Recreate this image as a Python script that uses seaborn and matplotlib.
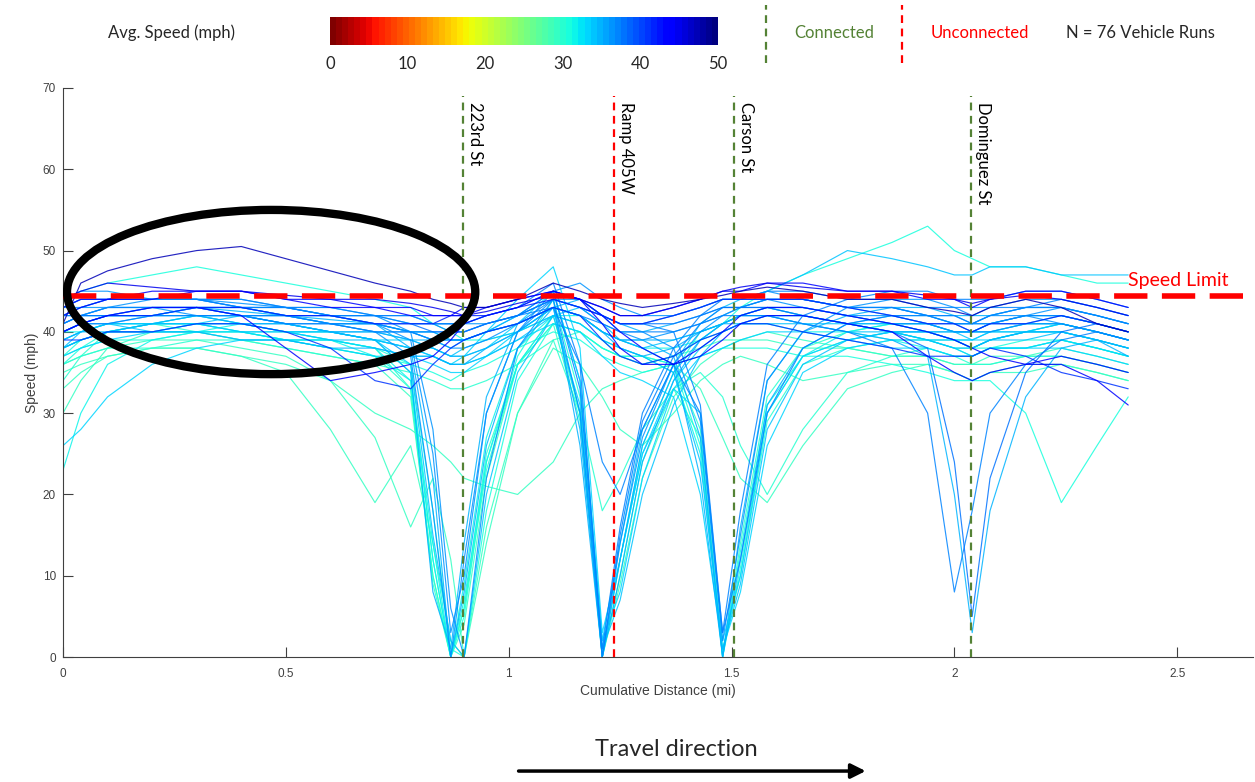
import numpy as np
import pandas as pd
import matplotlib
matplotlib.use("Agg")
import matplotlib.pyplot as plt
import seaborn as sns
from matplotlib.patches import Ellipse, FancyArrowPatch
from matplotlib.lines import Line2D

sns.set_style("ticks")
plt.rcParams["font.family"] = ["Liberation Sans", "DejaVu Sans"]

# distance stations (mi) shared by every run
DIST = [0.00, 0.04, 0.10, 0.20, 0.30, 0.40, 0.50, 0.60, 0.70, 0.78,
        0.83, 0.87, 0.90, 0.95, 1.02, 1.10, 1.16, 1.21, 1.25, 1.30,
        1.37, 1.43, 1.48, 1.52, 1.58, 1.66, 1.76, 1.86, 1.94, 2.00,
        2.04, 2.08, 2.16, 2.24, 2.32, 2.39]

# speed (mph) of each vehicle run at the stations above
RUN_SPEEDS = [
    [40, 41, 42, 42, 43, 42.5, 42, 41.5, 41, 38, 22, 0, 8, 26, 38, 43, 44, 42, 41, 40, 41, 42, 43, 43, 44, 44, 43, 42, 41, 40, 40, 41, 42, 42, 41, 40],
    [38, 40, 41, 40, 41, 42, 41, 40, 39, 36, 15, 2, 0, 20, 35, 42, 43, 41, 39, 38, 39, 40, 41, 42, 42, 41, 41, 40, 39, 38, 38, 39, 40, 40, 39, 38],
    [36, 38, 40, 41, 42, 41, 40, 40, 39, 35, 12, 0, 5, 24, 37, 44, 32, 0, 12, 26, 35, 40, 41, 42, 43, 42, 41, 40, 39, 39, 38, 39, 40, 41, 40, 39],
    [42, 43, 43, 44, 44, 43.5, 43, 42, 41, 39, 25, 3, 10, 30, 40, 45, 46, 44, 43, 42, 42, 43, 44, 44, 45, 44, 43, 43, 42, 41, 41, 42, 43, 43, 42, 41],
    [34, 37, 40, 41, 40, 40, 39, 39, 38, 33, 10, 0, 6, 25, 36, 41, 40, 38, 37, 37, 36, 28, 0, 14, 32, 38, 40, 41, 40, 39, 38, 39, 40, 40, 39, 38],
    [23, 30, 36, 39, 40, 41, 40, 39, 37, 34, 14, 0, 7, 24, 36, 42, 42, 40, 39, 38, 38, 39, 40, 41, 41, 40, 40, 39, 38, 37, 37, 38, 38, 39, 38, 37],
    [42, 42, 43, 43, 42, 42, 41, 41, 40, 40, 39, 38, 38, 39, 41, 44, 30, 0, 14, 27, 36, 40, 42, 43, 44, 44, 43, 43, 42, 42, 41, 42, 42, 43, 42, 41],
    [40, 41, 41, 42, 42, 41, 41, 40, 40, 39, 38, 37, 37, 38, 40, 43, 28, 0, 10, 24, 34, 39, 41, 42, 43, 43, 42, 41, 41, 40, 40, 41, 41, 42, 41, 40],
    [38, 39, 40, 40, 41, 41, 40, 40, 39, 39, 38, 37, 37, 38, 41, 45, 34, 2, 8, 22, 33, 30, 2, 10, 30, 37, 39, 40, 40, 39, 39, 39, 40, 40, 39, 38],
    [43, 44, 44, 44, 44, 43, 43, 42, 42, 41, 41, 40, 40, 41, 42, 45, 33, 1, 16, 30, 38, 42, 44, 44, 45, 45, 44, 44, 43, 43, 42, 43, 43, 44, 43, 42],
    [39, 40, 41, 41, 42, 42, 41, 40, 39, 38, 37, 36, 37, 40, 44, 48, 38, 3, 12, 25, 34, 38, 40, 41, 42, 42, 41, 41, 40, 39, 39, 40, 40, 41, 40, 39],
    [30, 34, 38, 40, 40, 39, 38, 37, 36, 32, 10, 0, 4, 22, 36, 42, 30, 0, 9, 22, 32, 36, 38, 39, 40, 39, 38, 37, 37, 36, 36, 37, 37, 38, 37, 36],
    [41, 42, 42, 43, 43, 42, 42, 41, 41, 40, 40, 39, 39, 40, 41, 43, 42, 40, 39, 39, 37, 27, 0, 12, 31, 38, 41, 42, 42, 41, 41, 41, 42, 42, 41, 40],
    [39, 40, 41, 41, 41, 40, 40, 39, 39, 38, 38, 37, 38, 39, 40, 42, 41, 39, 38, 37, 35, 24, 1, 9, 28, 36, 39, 40, 40, 40, 39, 40, 40, 41, 40, 39],
    [37, 39, 40, 41, 41, 40, 39, 39, 38, 36, 18, 1, 0, 18, 34, 41, 40, 38, 37, 37, 36, 26, 0, 11, 30, 37, 39, 40, 39, 38, 38, 38, 39, 39, 38, 37],
    [42, 43, 44, 44, 44, 43, 43, 42, 42, 41, 41, 41, 41, 41, 42, 44, 43, 41, 40, 40, 38, 29, 2, 15, 34, 40, 43, 44, 44, 43, 43, 43, 44, 44, 43, 42],
    [41, 42, 42, 43, 43, 43, 42, 42, 41, 41, 40, 40, 40, 41, 42, 44, 43, 42, 41, 41, 41, 42, 43, 43, 43, 42, 41, 40, 38, 24, 5, 22, 35, 40, 41, 40],
    [38, 39, 40, 40, 40, 39, 39, 38, 38, 37, 37, 36, 36, 38, 40, 43, 42, 40, 39, 39, 39, 40, 41, 41, 42, 41, 40, 39, 37, 20, 3, 18, 32, 38, 39, 38],
    [40, 41, 41, 42, 42, 42, 41, 41, 40, 40, 39, 39, 39, 40, 41, 43, 42, 41, 40, 40, 40, 41, 42, 42, 42, 41, 40, 38, 30, 8, 18, 30, 36, 39, 40, 39],
    [44, 45, 46, 45.5, 45, 45, 44.5, 44, 44, 43.5, 43, 42.5, 42, 42.5, 43.5, 44.5, 44, 43, 42, 42, 43, 44, 45, 45.5, 46, 45.5, 45, 45, 44.5, 44, 43.5, 44, 44.5, 44, 43, 42],
    [41, 46, 47.5, 49, 50, 50.5, 49, 47.5, 46, 45, 44, 43.5, 43, 43, 44, 46, 45, 44, 43.5, 43, 43.5, 44, 44.5, 45, 45.5, 45, 44, 44, 43, 42.5, 42, 43, 44, 43, 41, 40],
    [40, 41, 42, 42, 43, 43, 42, 42, 41, 41, 41, 42, 42, 42, 43, 44, 43, 42, 41, 41, 42, 43, 44, 44, 44, 44, 43, 42, 41, 41, 40, 41, 41, 42, 41, 40],
    [39, 39, 40, 40, 41, 41, 40, 38, 34, 33, 36, 38, 39, 40, 41, 43, 42, 39, 37, 36, 37, 39, 40, 41, 41, 40, 39, 38, 37, 37, 37, 38, 37, 35, 34, 33],
    [43, 44, 44, 45, 45, 45, 44, 44, 43, 43, 42, 42, 42, 43, 44, 45, 44, 43, 42, 42, 43, 44, 45, 45, 46, 46, 45, 45, 44, 44, 43, 44, 45, 45, 44, 43],
    [44, 45, 46, 47, 48, 47, 46, 45, 44, 43, 41, 40, 39, 39, 40, 42, 41, 39, 37, 36, 37, 39, 41, 43, 45, 47, 49, 51, 53, 50, 49, 48, 48, 47, 46, 46],
    [35, 36, 37, 38, 38, 37, 35, 28, 19, 26, 14, 2, 0, 16, 30, 38, 36, 32, 28, 26, 30, 34, 36, 37, 36, 34, 35, 36, 36, 35, 34, 35, 36, 36, 35, 34],
    [33, 35, 37, 38, 38, 37, 36, 34, 30, 28, 26, 24, 22, 21, 20, 24, 30, 33, 34, 35, 36, 33, 27, 22, 19, 26, 33, 35, 36, 35, 34, 35, 35, 36, 35, 34],
    [37, 38, 39, 39, 40, 40, 39, 38, 37, 36, 35, 34, 35, 36, 38, 40, 39, 37, 36, 35, 36, 37, 38, 38, 38, 37, 37, 36, 35, 34, 34, 34, 30, 19, 26, 32],
    [26, 28, 32, 36, 38, 39, 39, 38, 37, 37, 36, 35, 35, 37, 40, 43, 30, 1, 12, 25, 33, 37, 38, 39, 40, 40, 39, 38, 38, 37, 37, 38, 38, 38, 37, 36],
    [40, 41, 42, 43, 43, 42, 38, 34, 35, 36, 37, 39, 41, 42, 43, 45, 44, 42, 40, 38, 36, 37, 39, 41, 42, 42, 41, 40, 37, 35, 34, 35, 36, 37, 36, 35],
    [36, 37, 38, 39, 39, 38, 37, 34, 27, 16, 22, 12, 0, 14, 30, 39, 40, 38, 37, 36, 37, 38, 39, 39, 39, 38, 38, 37, 37, 36, 36, 36, 37, 37, 36, 35],
    [42, 42, 43, 43, 43, 42, 42, 41, 41, 40, 40, 40, 40, 41, 42, 43, 36, 24, 20, 28, 36, 30, 3, 12, 30, 38, 41, 42, 42, 41, 41, 41, 42, 42, 41, 40],
    [41, 42, 43, 43, 43, 42, 42, 41, 40, 37, 18, 0, 12, 30, 40, 44, 43, 42, 41, 41, 42, 43, 44, 44, 44, 43, 42, 42, 41, 41, 40, 41, 42, 41, 40, 39],
    [39, 40, 40, 41, 42, 42, 41, 40, 39, 35, 8, 1, 14, 32, 41, 43, 42, 40, 38, 37, 38, 40, 41, 42, 43, 42, 41, 40, 40, 39, 38, 39, 40, 40, 39, 37],
    [44, 45, 45, 44, 44, 44, 43, 43, 42, 40, 28, 6, 0, 22, 38, 44, 44, 42, 40, 39, 40, 41, 42, 43, 43, 43, 42, 41, 41, 40, 40, 40, 41, 41, 40, 39],
    [41, 42, 42, 42, 43, 43, 42, 42, 41, 40, 40, 39, 39, 40, 42, 44, 26, 0, 12, 26, 35, 39, 41, 42, 42, 42, 41, 41, 40, 40, 40, 40, 41, 41, 40, 39],
    [38, 39, 40, 41, 41, 41, 40, 40, 39, 38, 37, 36, 36, 37, 39, 42, 31, 1, 7, 20, 31, 37, 40, 41, 41, 41, 40, 40, 39, 39, 38, 39, 39, 40, 39, 38],
    [43, 43, 44, 44, 44, 44, 43, 43, 42, 42, 41, 41, 41, 42, 43, 46, 36, 0, 15, 29, 37, 41, 43, 43, 44, 44, 43, 43, 42, 42, 41, 42, 43, 43, 42, 41],
    [40, 41, 42, 42, 42, 41, 41, 40, 40, 39, 39, 38, 39, 40, 41, 43, 42, 40, 39, 38, 36, 22, 0, 16, 34, 40, 42, 43, 43, 42, 42, 42, 43, 43, 42, 41],
    [37, 38, 39, 40, 40, 40, 39, 39, 38, 37, 37, 36, 36, 37, 39, 41, 40, 37, 35, 34, 32, 20, 1, 8, 26, 35, 38, 39, 39, 38, 37, 38, 38, 39, 38, 37],
    [43, 44, 44, 44, 44, 43, 43, 42, 42, 42, 41, 41, 41, 42, 43, 45, 44, 42, 41, 41, 40, 31, 3, 18, 36, 42, 44, 45, 45, 44, 44, 44, 45, 45, 44, 43],
    [40, 40, 41, 41, 41, 40, 40, 39, 38, 34, 12, 0, 9, 27, 38, 42, 41, 39, 38, 37, 35, 25, 0, 13, 31, 37, 40, 41, 41, 40, 40, 40, 41, 41, 40, 39],
    [42, 43, 44, 44, 45, 45, 44, 43, 43, 42, 42, 42, 43, 43, 44, 45, 44, 41, 38, 36, 36, 38, 40, 42, 43, 43, 42, 41, 40, 39, 38, 37, 36, 36, 34, 31],
    [36, 37, 38, 38, 39, 39, 38, 37, 36, 35, 34, 33, 33, 34, 36, 39, 30, 18, 22, 28, 33, 35, 32, 26, 20, 28, 35, 37, 38, 37, 36, 36, 37, 37, 36, 35],
    [40, 41, 42, 42, 43, 43, 42, 41, 41, 40, 39, 39, 39, 40, 42, 45, 34, 2, 14, 28, 36, 41, 43, 44, 45, 47, 50, 49, 48, 47, 47, 48, 48, 47, 47, 47],
    [38, 39, 40, 40, 40, 39, 39, 38, 37, 33, 9, 0, 6, 23, 36, 41, 29, 0, 10, 24, 33, 27, 1, 10, 29, 36, 38, 39, 39, 38, 37, 38, 38, 39, 38, 37],
]

RUN_AVG = [35, 34, 31, 36, 30, 32, 36, 35, 33, 37, 33, 29, 35, 34, 31, 36,
           38, 35, 37, 45, 47, 42, 41, 43, 31, 29, 29, 31, 33, 44, 29, 37,
           36, 35, 36, 35, 34, 37, 35, 33, 37, 32, 44, 30, 34, 30]

# intersections
SIGNAL_X = [0.898, 1.237, 1.506, 2.038]
SIGNAL_NAMES = ["223rd St", "Ramp 405W", "Carson St", "Dominguez St"]
SIGNAL_CONNECTED = [True, False, True, True]

SPEED_LIMIT = 44.4

GREEN = "#548235"
RED = "#ff0000"
LABEL_FONT = ["Lato", "DejaVu Sans"]

rows = []
for i, (speeds, avg) in enumerate(zip(RUN_SPEEDS, RUN_AVG)):
    for d, s in zip(DIST, speeds):
        rows.append({"run": i, "dist": d, "speed": s, "avg": avg})
df = pd.DataFrame(rows)

cmap = matplotlib.colormaps["jet_r"].resampled(64)

fig = plt.figure(figsize=(12.55, 7.82), dpi=100)
ax = fig.add_axes([0.0502, 0.1598, 0.9482, 0.7277])

sns.lineplot(data=df, x="dist", y="speed", hue="avg", units="run",
             estimator=None, sort=False, palette=cmap, hue_norm=(0, 50),
             legend=False, lw=0.85, alpha=0.85, ax=ax)

for x, name, conn in zip(SIGNAL_X, SIGNAL_NAMES, SIGNAL_CONNECTED):
    c = GREEN if conn else RED
    ax.vlines(x, 0, 69, colors=c, lw=1.6, linestyles=(0, (3.5, 2.5)), zorder=4)
    ax.text(x + 0.008, 68.3, name, rotation=-90, ha="left", va="top",
            fontsize=12, family=LABEL_FONT, color="black")

ax.axhline(SPEED_LIMIT, color=RED, lw=4, linestyle=(0, (6, 2.6)), zorder=5)
ax.text(2.39, SPEED_LIMIT + 1.9, "Speed Limit", color=RED, fontsize=14,
        family=LABEL_FONT, ha="left", va="center")

ax.add_patch(Ellipse((0.467, 44.9), 0.916, 20.2, fill=False, lw=6,
                     edgecolor="black", zorder=6))

ax.set_xlim(0, 2.67)
ax.set_ylim(0, 70)
ax.set_xticks([0, 0.5, 1, 1.5, 2, 2.5])
ax.set_xticklabels(["0", "0.5", "1", "1.5", "2", "2.5"])
ax.set_yticks(range(0, 71, 10))
ax.tick_params(direction="in", length=7.5, width=0.8, colors="#404040",
               labelsize=8.5)
ax.tick_params(axis="x", pad=8)
ax.tick_params(axis="y", pad=5)
ax.set_xlabel("Cumulative Distance (mi)", fontsize=10, color="#404040", labelpad=3)
ax.set_ylabel("Speed (mph)", fontsize=10, color="#404040", labelpad=3)
sns.despine(ax=ax)
for sp in ("left", "bottom"):
    ax.spines[sp].set_color("#404040")
    ax.spines[sp].set_linewidth(0.8)

# colour bar at top
cax = fig.add_axes([0.263, 0.9425, 0.309, 0.036])
sm = matplotlib.cm.ScalarMappable(norm=matplotlib.colors.Normalize(0, 50), cmap=cmap)
cb = fig.colorbar(sm, cax=cax, orientation="horizontal", ticks=range(0, 51, 10))
cb.outline.set_visible(False)
cax.tick_params(length=0, labelsize=12, pad=8)
for t in cax.get_xticklabels():
    t.set_family(LABEL_FONT)
fig.text(0.137, 0.958, "Avg. Speed (mph)", fontsize=12, family=LABEL_FONT,
         ha="center", va="center")

# legend for intersection type
fig.add_artist(Line2D([0.610, 0.610], [0.919, 0.994], color=GREEN, lw=1.6,
                      linestyle=(0, (3.5, 2.5))))
fig.add_artist(Line2D([0.719, 0.719], [0.919, 0.994], color=RED, lw=1.6,
                      linestyle=(0, (3.5, 2.5))))
fig.text(0.665, 0.958, "Connected", color=GREEN, fontsize=12, family=LABEL_FONT,
         ha="center", va="center")
fig.text(0.781, 0.958, "Unconnected", color=RED, fontsize=12, family=LABEL_FONT,
         ha="center", va="center")
fig.text(0.909, 0.958, "N = 76 Vehicle Runs", fontsize=12, family=LABEL_FONT,
         ha="center", va="center")

# travel direction
fig.text(0.539, 0.041, "Travel direction", fontsize=17, family=LABEL_FONT,
         ha="center", va="center")
fig.add_artist(FancyArrowPatch(
    (0.411, 0.014), (0.692, 0.014), transform=fig.transFigure,
    arrowstyle="-|>", mutation_scale=22, lw=2.5, color="black"))

fig.savefig("out.png", dpi=100, facecolor="white")
